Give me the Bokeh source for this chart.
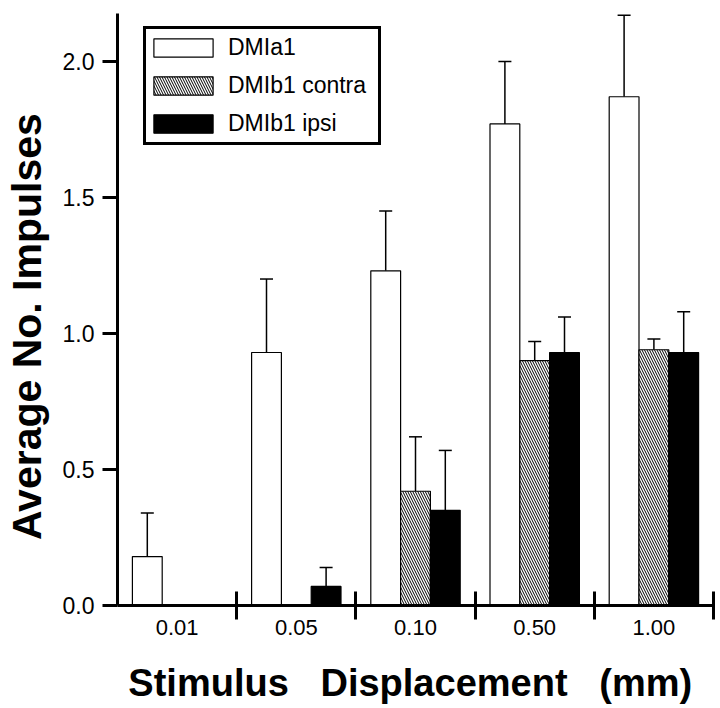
from bokeh.plotting import figure
from bokeh.models import (Range1d, FixedTicker, Whisker, TeeHead, ColumnDataSource,
                          PrintfTickFormatter, CustomJSTickFormatter)
from bokeh.embed import file_html
from bokeh.resources import INLINE

# ---- data ----
categories = ["0.01", "0.05", "0.10", "0.50", "1.00"]
series_names = ["DMIa1", "DMIb1 contra", "DMIb1 ipsi"]
dmia1 = [0.18, 0.93, 1.23, 1.77, 1.87]
dmia1_err = [0.16, 0.27, 0.22, 0.23, 0.30]
contra = [0.0, 0.0, 0.42, 0.90, 0.94]
contra_err = [0.0, 0.0, 0.20, 0.07, 0.04]
ipsi = [0.0, 0.07, 0.35, 0.93, 0.93]
ipsi_err = [0.0, 0.07, 0.22, 0.13, 0.15]
y_ticks = [0.0, 0.5, 1.0, 1.5, 2.0]
y_max = 2.176

FONT = "Liberation Sans"
offsets = [0.25, 0.5, 0.75]
bar_w = 0.25

p = figure(width=720, height=708, x_range=Range1d(0, 5), y_range=Range1d(0, y_max),
           output_backend="svg", toolbar_location=None,
           min_border_left=111, min_border_right=7, min_border_top=13, min_border_bottom=103)
p.xgrid.visible = False
p.ygrid.visible = False
p.outline_line_color = None
p.background_fill_color = "white"
p.border_fill_color = "white"

styles = [
    dict(fill_color="white"),
    dict(fill_color="white", hatch_pattern="\\", hatch_scale=5, hatch_weight=1, hatch_color="black"),
    dict(fill_color="black"),
]
all_vals = [dmia1, contra, ipsi]
all_errs = [dmia1_err, contra_err, ipsi_err]

wx, wl, wu = [], [], []
for s, (vals, errs, name, st) in enumerate(zip(all_vals, all_errs, series_names, styles)):
    xs = [i + offsets[s] for i, v in enumerate(vals) if v > 0]
    tops = [v for v in vals if v > 0]
    p.vbar(x=xs, top=tops, bottom=0, width=bar_w, line_color="black", line_width=1.2,
           legend_label=name, **st)
    for i, (v, e) in enumerate(zip(vals, errs)):
        if v > 0 and e > 0:
            wx.append(i + offsets[s])
            wl.append(v)
            wu.append(v + e)

wsrc = ColumnDataSource(dict(x=wx, lower=wl, upper=wu))
whisk = Whisker(source=wsrc, base="x", lower="lower", upper="upper", dimension="height",
                line_color="black", line_width=1.5,
                upper_head=TeeHead(size=13, line_width=1.5, line_color="black"),
                lower_head=None)
p.add_layout(whisk)

# y axis
ya = p.yaxis[0]
ya.ticker = FixedTicker(ticks=y_ticks)
ya.formatter = PrintfTickFormatter(format="%.1f")
ya.axis_line_width = 3
ya.major_tick_line_width = 3
ya.major_tick_in = 0
ya.major_tick_out = 15
ya.minor_tick_line_color = None
ya.major_label_standoff = 8
ya.major_label_text_font = FONT
ya.major_label_text_font_size = "23px"
ya.major_label_text_color = "black"
ya.axis_label = "Average No. Impulses\u00a0\u00a0\u00a0"
ya.axis_label_text_font = FONT
ya.axis_label_text_font_size = "41px"
ya.axis_label_text_font_style = "bold"
ya.axis_label_text_color = "black"
ya.axis_label_standoff = 10

# x axis
xa = p.xaxis[0]
xa.ticker = FixedTicker(ticks=[i + 0.5 for i in range(len(categories))],
                        minor_ticks=[i + 1 for i in range(len(categories))])
xa.formatter = CustomJSTickFormatter(args=dict(labels=categories),
                                     code="return labels[Math.floor(tick)];")
xa.axis_line_width = 3
xa.major_tick_line_color = None
xa.major_tick_in = 0
xa.major_tick_out = 0
xa.minor_tick_in = 14
xa.minor_tick_out = 14
xa.minor_tick_line_width = 3
xa.minor_tick_line_color = "black"
xa.major_label_standoff = 0
xa.major_label_text_font = FONT
xa.major_label_text_font_size = "22px"
xa.major_label_text_color = "black"
xa.axis_label = "Stimulus\u00a0\u00a0\u00a0Displacement\u00a0\u00a0\u00a0(mm)\u00a0"
xa.axis_label_text_font = FONT
xa.axis_label_text_font_size = "38px"
xa.axis_label_text_font_style = "bold"
xa.axis_label_text_color = "black"
xa.axis_label_standoff = 24

# legend
lg = p.legend[0]
lg.location = (26, 460)
lg.margin = 0
lg.padding = 0
lg.spacing = 1
lg.glyph_width = 74
lg.glyph_height = 23
lg.label_height = 37
lg.label_width = 150
lg.label_standoff = 8
lg.label_text_font = FONT
lg.label_text_font_size = "23px"
lg.label_text_color = "black"
lg.border_line_color = "black"
lg.border_line_alpha = 1.0
lg.border_line_width = 3
lg.background_fill_color = "white"
lg.background_fill_alpha = 1.0

open("out.html", "w").write(file_html(p, INLINE))
